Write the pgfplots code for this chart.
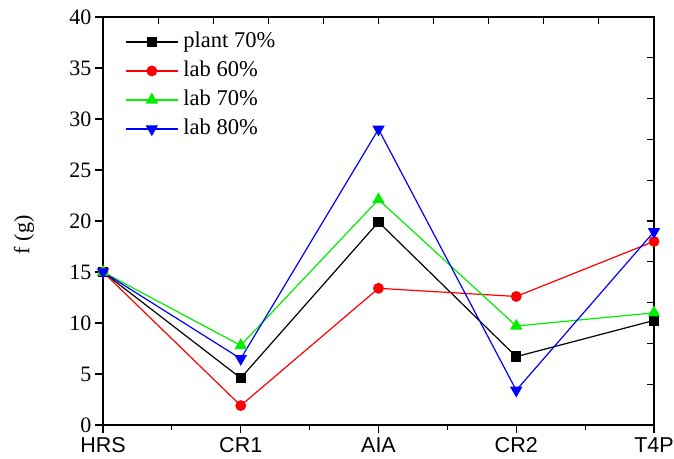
\documentclass[border=0pt]{standalone}
\usepackage{fontspec}
\setmainfont{Liberation Serif}
\newfontfamily\arial{Liberation Sans}
\usepackage{pgfplots}
\pgfplotsset{compat=1.18}
\definecolor{cgreen}{RGB}{0,240,0}
\begin{document}
\begin{tikzpicture}
\begin{axis}[name=ax, scale only axis, width=551pt, height=408pt,
  xmin=0, xmax=4, ymin=0, ymax=40,
  xtick={0,1,2,3,4}, xticklabels={HRS,CR1,AIA,CR2,T4P},
  minor xtick={0.5,1.5,2.5,3.5},
  ytick={0,5,...,40},
  xtick pos=left, ytick pos=left,
  tick align=outside,
  major tick length=8pt, minor tick length=5pt,
  x tick label style={font=\arial\fontsize{21.5}{24}\selectfont, yshift=-1pt},
  y tick label style={font=\fontsize{22}{24}\selectfont},
  /pgf/number format/assume math mode=true,
  ylabel={f (g)},
  every axis y label/.style={at={(axis description cs:-0.1434,0.466)}, rotate=90, anchor=center, font=\fontsize{22}{26}\selectfont},
  axis line style={line width=1.3pt},
  every tick/.style={line width=1.1pt, black},
  legend cell align=left,
  legend style={draw=none, fill=none, at={(0.04,0.97)}, anchor=north west, inner sep=0pt,
    font=\fontsize{22.5}{26}\selectfont, row sep=4pt, column sep=3pt,
    nodes={inner sep=2pt, text depth=5pt, text height=16pt}},
  legend image code/.code={\draw[mark repeat=2, mark phase=2] plot coordinates {(0pt,0pt) (26pt,0pt) (52pt,0pt)};},
  every axis plot/.append style={line width=1.2pt},
]
\addplot[black, mark=square*, mark size=4.6pt, mark options={solid, fill=black}] coordinates {(0,15) (1,4.6) (2,19.9) (3,6.7) (4,10.25)};
\addlegendentry{plant 70\%}
\addplot[red, mark=*, mark size=4.8pt, mark options={solid, fill=red}] coordinates {(0,15) (1,1.9) (2,13.4) (3,12.6) (4,18.0)};
\addlegendentry{lab 60\%}
\addplot[cgreen, mark=triangle*, mark size=6pt, mark options={solid, fill=cgreen}] coordinates {(0,15) (1,7.8) (2,22.1) (3,9.7) (4,11.0)};
\addlegendentry{lab 70\%}
\addplot[blue, mark=triangle*, mark size=6pt, mark options={solid, fill=blue, rotate=180}] coordinates {(0,15) (1,6.5) (2,29.0) (3,3.4) (4,18.95)};
\addlegendentry{lab 80\%}
\end{axis}
\begin{axis}[scale only axis, width=551pt, height=408pt,
  xmin=0, xmax=4, ymin=0, ymax=40,
  axis line style={draw=none},
  xtick={0,0.4,0.8,1.2,1.6,2,2.4,2.8,3.2,3.6,4},
  ytick={0,4,8,12,16,20,24,28,32,36,40},
  xticklabels={}, yticklabels={},
  xtick pos=right, ytick pos=right,
  tick align=inside, major tick length=7pt,
  every tick/.style={line width=1.1pt, black},
]
\end{axis}
\pgfresetboundingbox
\path ([xshift=-103pt, yshift=-34pt]ax.south west) rectangle ([xshift=20pt, yshift=17pt]ax.north east);
\end{tikzpicture}
\end{document}
